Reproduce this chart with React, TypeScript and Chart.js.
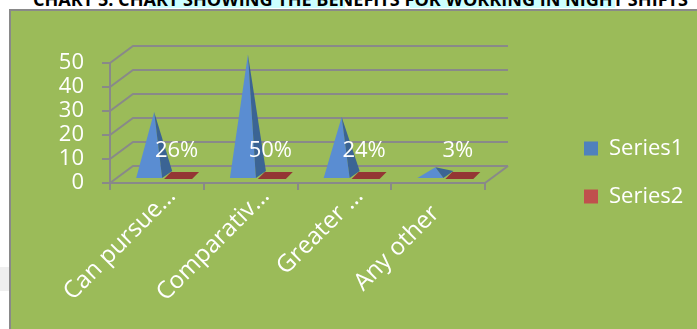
import React, { useEffect, useRef } from "react";
import { Chart, registerables } from "chart.js";

Chart.register(...registerables);

const categories = ["Can pursue…", "Comparativ…", "Greater …", "Any other    "];
const series1 = [26, 50, 24, 3];
const series2 = [0, 0, 0, 0];
const pctLabels = ["26%", "50%", "24%", "3%"];
const yTicks = { min: 0, max: 50, step: 10 };
const titleText = "CHART 5: CHART SHOWING THE BENEFITS FOR WORKING IN NIGHT SHIFTS";

const GREEN = "#9BBB59";
const GRID = "#898989";
const BLUE = "#4F81BD";
const BLUE_LIGHT = "#5A8DD2";
const BLUE_DARK = "#3B6494";
const RED = "#C0504D";
const RED_DARK = "#943634";
const FONT = "'Open Sans', 'DejaVu Sans', sans-serif";

const DEPTH_X = 23;
const DEPTH_Y = -17;

const depthPlugin = {
  id: "depth3d",
  beforeDatasetsDraw(chart: any) {
    const { ctx, chartArea, scales } = chart;
    const y = scales.y;
    ctx.save();
    ctx.strokeStyle = GRID;
    ctx.lineWidth = 2;
    y.ticks.forEach((t: any) => {
      const py = y.getPixelForValue(t.value);
      ctx.beginPath();
      ctx.moveTo(chartArea.left, py);
      ctx.lineTo(chartArea.left + DEPTH_X, py + DEPTH_Y);
      ctx.lineTo(chartArea.right + DEPTH_X, py + DEPTH_Y);
      ctx.stroke();
    });
    const y0 = y.getPixelForValue(0);
    ctx.beginPath();
    ctx.moveTo(chartArea.right, y0);
    ctx.lineTo(chartArea.right + DEPTH_X, y0 + DEPTH_Y);
    ctx.stroke();
    ctx.restore();
  },
  beforeDatasetDraw() {
    return false;
  },
  afterDatasetsDraw(chart: any) {
    const { ctx } = chart;
    const m1 = chart.getDatasetMeta(0);
    const m2 = chart.getDatasetMeta(1);
    ctx.save();
    m1.data.forEach((bar: any) => {
      const X = bar.x + 11;
      const Yc = bar.base - 7.5;
      const w = 13;
      const ddx = 5;
      const ddy = 3.5;
      const apexY = bar.y - 8.5;
      const fl = [X - w - ddx, Yc + ddy];
      const fr = [X + w - ddx, Yc + ddy];
      const br = [X + w + ddx, Yc - ddy];
      ctx.fillStyle = BLUE_LIGHT;
      ctx.beginPath();
      ctx.moveTo(fl[0], fl[1]);
      ctx.lineTo(fr[0], fr[1]);
      ctx.lineTo(X, apexY);
      ctx.closePath();
      ctx.fill();
      ctx.fillStyle = BLUE_DARK;
      ctx.beginPath();
      ctx.moveTo(fr[0], fr[1]);
      ctx.lineTo(br[0], br[1]);
      ctx.lineTo(X, apexY);
      ctx.closePath();
      ctx.fill();
    });
    m2.data.forEach((bar: any) => {
      const X = bar.x + 11;
      const Yc = bar.base - 7.5;
      const w = 14;
      const ddx = 3.5;
      const ddy = 3.5;
      ctx.fillStyle = RED_DARK;
      ctx.beginPath();
      ctx.moveTo(X - w - ddx, Yc + ddy);
      ctx.lineTo(X + w - ddx, Yc + ddy);
      ctx.lineTo(X + w + ddx, Yc - ddy);
      ctx.lineTo(X - w + ddx, Yc - ddy);
      ctx.closePath();
      ctx.fill();
    });
    ctx.fillStyle = "#FFFFFF";
    ctx.font = `22px ${FONT}`;
    ctx.textAlign = "center";
    ctx.textBaseline = "middle";
    m2.data.forEach((bar: any, i: number) => {
      ctx.fillText(pctLabels[i], bar.x + 6, bar.base - 32);
    });
    ctx.restore();
  },
};

export default function App() {
  const ref = useRef<HTMLCanvasElement>(null);
  useEffect(() => {
    if (!ref.current) return;
    const chart = new Chart(ref.current, {
      type: "bar",
      data: {
        labels: categories,
        datasets: [
          { label: "Series1", data: series1, backgroundColor: BLUE, yAxisID: "y" },
          { label: "Series2", data: series2, backgroundColor: RED, yAxisID: "y" },
        ],
      },
      plugins: [depthPlugin],
      options: {
        responsive: false,
        animation: false,
        events: [],
        layout: { padding: { left: 10, top: 16, right: 14, bottom: 0 } },
        datasets: { bar: { categoryPercentage: 0.585, barPercentage: 0.9 } },
        scales: {
          x: {
            type: "category",
            offset: true,
            grid: {
              offset: true,
              drawOnChartArea: false,
              drawTicks: true,
              tickLength: 7,
              color: GRID,
              lineWidth: 2,
            },
            border: { display: true, color: GRID, width: 2 },
            ticks: {
              color: "#FFFFFF",
              font: { size: 24, family: FONT },
              maxRotation: 45,
              minRotation: 45,
              autoSkip: false,
              padding: -8,
              labelOffset: 15,
            },
            afterFit: (s: any) => {
              s.height = 146;
            },
          },
          topSpacer: {
            type: "linear",
            axis: "x",
            position: "top",
            display: true,
            grid: { display: false, drawTicks: false },
            border: { display: false },
            ticks: { display: false },
            afterFit: (s: any) => {
              s.height = 47;
            },
          },
          y: {
            type: "linear",
            position: "left",
            min: yTicks.min,
            max: yTicks.max,
            grid: {
              drawOnChartArea: false,
              drawTicks: true,
              tickLength: 8,
              color: GRID,
              lineWidth: 2,
            },
            border: { display: true, color: GRID, width: 2 },
            ticks: {
              stepSize: yTicks.step,
              autoSkip: false,
              color: "#FFFFFF",
              font: { size: 22, family: FONT },
              padding: 18,
            },
            afterFit: (s: any) => {
              s.width = 100;
            },
          },
          spacer: {
            type: "linear",
            position: "right",
            display: true,
            grid: { display: false, drawTicks: false },
            border: { display: false },
            ticks: { display: false },
            afterFit: (s: any) => {
              s.width = 73;
            },
          },
        },
        plugins: {
          title: { display: false },
          tooltip: { enabled: false },
          legend: {
            display: true,
            position: "right",
            align: "center",
            maxWidth: 125,
            labels: {
              color: "#FFFFFF",
              font: { size: 22, family: FONT },
              boxWidth: 14,
              boxHeight: 14,
              padding: 26,
            },
          },
        },
      },
    } as any);
    return () => chart.destroy();
  }, []);

  return (
    <div
      style={{
        position: "fixed",
        left: 0,
        top: 0,
        width: 697,
        height: 329,
        background: "#FFFFFF",
        overflow: "hidden",
      }}
    >
      <div style={{ position: "absolute", left: 149, top: 0, width: 196, height: 8, background: "#CCFFFF" }} />
      <div style={{ position: "absolute", left: 410, top: 0, width: 205, height: 8, background: "#CCFFFF" }} />
      <div style={{ position: "absolute", left: 0, top: 267, width: 9, height: 24, background: "#EFEFEF" }} />
      <svg
        width={697}
        height={12}
        style={{ position: "absolute", left: 0, top: 0, display: "block" }}
      >
        <text
          x={33}
          y={6}
          textLength={655}
          lengthAdjust="spacingAndGlyphs"
          style={{ font: `bold 17px ${FONT}`, fill: "#000000" }}
        >
          {titleText}
        </text>
      </svg>
      <div
        style={{
          position: "absolute",
          left: 9,
          top: 9,
          width: 700,
          height: 330,
          background: GREEN,
          borderLeft: `2px solid ${GRID}`,
          borderTop: `2px solid ${GRID}`,
        }}
      />
      <canvas
        ref={ref}
        width={697}
        height={329}
        style={{ position: "absolute", left: 0, top: 0, width: 697, height: 329, display: "block" }}
      />
    </div>
  );
}
